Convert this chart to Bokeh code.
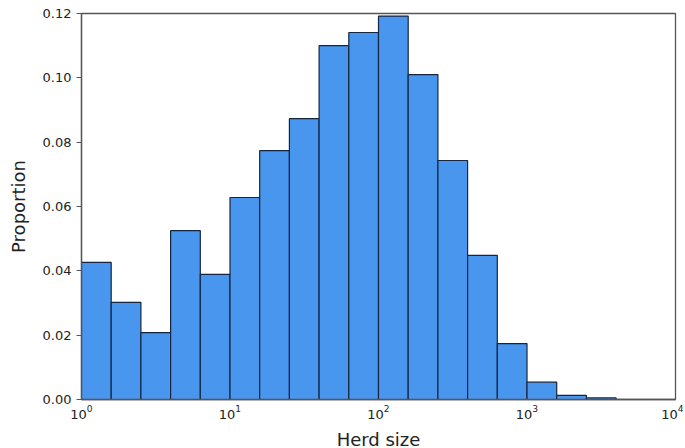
from bokeh.plotting import figure
from bokeh.models import FixedTicker, NumeralTickFormatter, Range1d
from bokeh.embed import file_html
from bokeh.resources import INLINE

# Bin edges in log10(herd size), 0.2-decade bins
log_edges = [0.0, 0.2, 0.4, 0.6, 0.8, 1.0, 1.2, 1.4, 1.6, 1.8, 2.0,
             2.2, 2.4, 2.6, 2.8, 3.0, 3.2, 3.4, 3.6]
proportion = [0.0426, 0.0302, 0.0208, 0.0525, 0.0389, 0.0628, 0.0774,
              0.0873, 0.1100, 0.1141, 0.1192, 0.1010, 0.0743, 0.0448,
              0.0174, 0.0054, 0.0013, 0.0005]
x_ticks = [1, 10, 100, 1000, 10000]
y_ticks = [0.0, 0.02, 0.04, 0.06, 0.08, 0.10, 0.12]

left = [10 ** e for e in log_edges[:-1]]
right = [10 ** e for e in log_edges[1:]]

p = figure(frame_width=594, frame_height=386, x_axis_type="log",
           x_range=Range1d(1, 10000), y_range=Range1d(0, 0.12),
           output_backend="svg", toolbar_location=None,
           min_border_left=81, min_border_right=8, min_border_top=13,
           min_border_bottom=46)

p.quad(left=left, right=right, bottom=0, top=proportion,
       fill_color="#4896ee", line_color="#16253f", line_width=1.2)

p.xgrid.visible = False
p.ygrid.visible = False
p.outline_line_color = "#555555"
p.outline_line_width = 1.3

p.xaxis.ticker = FixedTicker(ticks=x_ticks)
p.yaxis.ticker = FixedTicker(ticks=y_ticks)
p.yaxis.formatter = NumeralTickFormatter(format="0.00")
p.xaxis.minor_tick_line_color = None
p.yaxis.minor_tick_line_color = None

for ax in (p.xaxis[0], p.yaxis[0]):
    ax.axis_line_color = "#555555"
    ax.axis_line_width = 1.3
    ax.major_tick_line_color = "#555555"
    ax.major_tick_in = 0
    ax.major_tick_out = 5
    ax.major_label_text_font = "DejaVu Sans"
    ax.major_label_text_font_size = "13px"
    ax.major_label_text_color = "#222222"
    ax.axis_label_text_font = "DejaVu Sans"
    ax.axis_label_text_font_size = "18px"
    ax.axis_label_text_font_style = "normal"
    ax.axis_label_text_color = "#222222"

p.xaxis.major_tick_out = 0
p.xaxis.axis_label = "Herd size"
p.yaxis.axis_label = "Proportion"
p.xaxis.axis_label_standoff = 7
p.yaxis.axis_label_standoff = 11

open("out.html", "w").write(file_html(p, INLINE))
